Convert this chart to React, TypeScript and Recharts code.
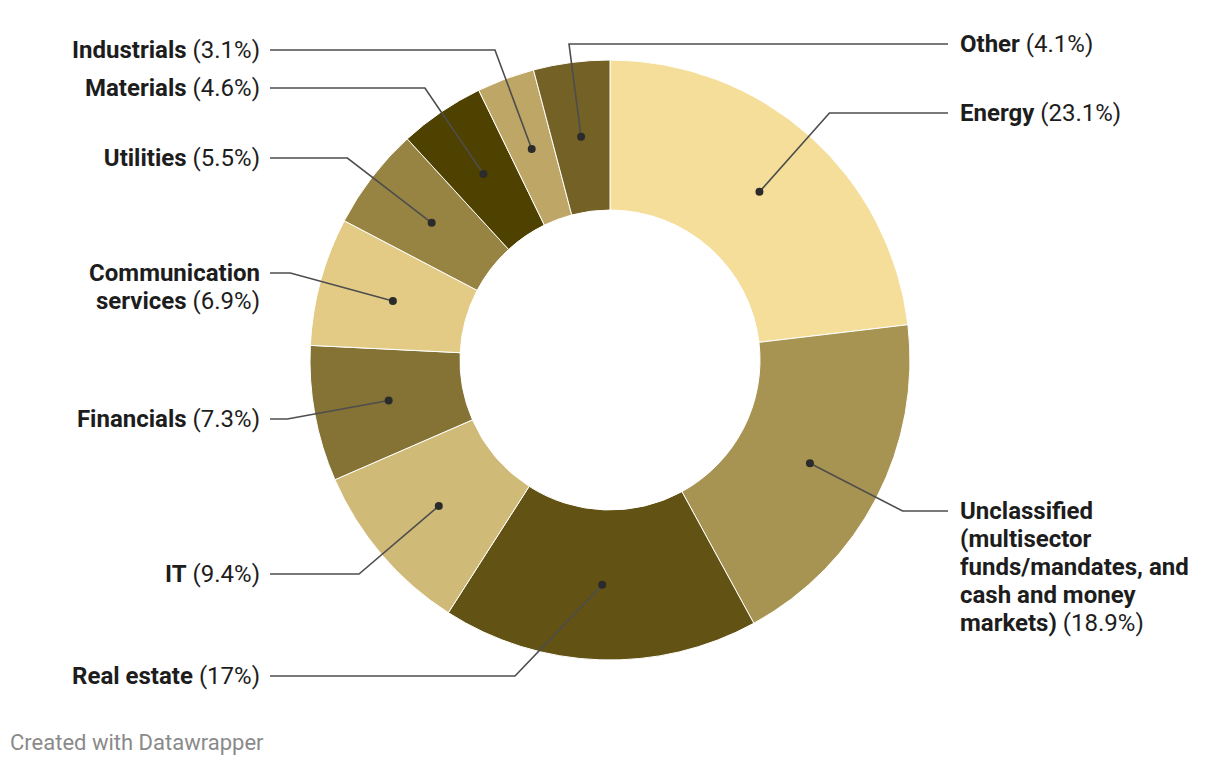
import React from "react";
import { PieChart, Pie, Cell } from "recharts";

const categories = [
  "Energy",
  "Unclassified (multisector funds/mandates, and cash and money markets)",
  "Real estate",
  "IT",
  "Financials",
  "Communication services",
  "Utilities",
  "Materials",
  "Industrials",
  "Other",
];
const values = [23.1, 18.9, 17, 9.4, 7.3, 6.9, 5.5, 4.6, 3.1, 4.1];
const valueLabels = ["23.1%", "18.9%", "17%", "9.4%", "7.3%", "6.9%", "5.5%", "4.6%", "3.1%", "4.1%"];
// wrapped label lines, as shown in the chart
const labelLines = [
  ["Energy"],
  ["Unclassified", "(multisector", "funds/mandates, and", "cash and money", "markets)"],
  ["Real estate"],
  ["IT"],
  ["Financials"],
  ["Communication", "services"],
  ["Utilities"],
  ["Materials"],
  ["Industrials"],
  ["Other"],
];
const colors = ["#f4de99", "#a89452", "#625314", "#d0ba77", "#857235", "#e3cb86", "#978442", "#4f4100", "#bea766", "#736126"];

// label layout: row y, side, and optional fixed elbow x
const labelY = [113, 511, 676, 574, 419, 273, 158, 88, 50, 44];
const labelRight = [true, true, false, false, false, false, false, false, false, true];
const elbowX: (number | null)[] = [null, null, 515, null, null, null, null, null, null, null];

const data = categories.map((name, i) => ({ name, value: values[i] }));

const RAD = Math.PI / 180;
const LINE_H = 28;

function renderLabel(props: any) {
  const { cx, cy, midAngle, innerRadius, outerRadius, index } = props;
  const r = (innerRadius + outerRadius) / 2;
  const dx = Math.cos(-midAngle * RAD);
  const dy = Math.sin(-midAngle * RAD);
  const px = cx + r * dx;
  const py = cy + r * dy;
  const ly = labelY[index];
  const ex = elbowX[index] ?? px + ((ly - py) / dy) * dx;
  const left = !labelRight[index];
  const endX = left ? 270 : 948;
  const textX = left ? 260 : 960;
  const lines = labelLines[index];
  return (
    <g key={`lbl-${index}`}>
      <polyline
        points={`${px},${py} ${ex},${ly} ${endX},${ly}`}
        fill="none"
        stroke="#4d4d4d"
        strokeWidth={1.6}
      />
      <circle cx={px} cy={py} r={4} fill="#2b2b2b" />
      <text
        x={textX}
        y={ly}
        textAnchor={left ? "end" : "start"}
        fontFamily="Roboto, sans-serif"
        fontSize={24}
        fill="#1d1d1d"
      >
        {lines.map((ln, j) => (
          <tspan key={j} x={textX} dy={j === 0 ? 8 : LINE_H}>
            <tspan fontWeight={700}>{ln}</tspan>
            {j === lines.length - 1 ? <tspan fontWeight={400}>{` (${valueLabels[index]})`}</tspan> : null}
          </tspan>
        ))}
      </text>
    </g>
  );
}

export default function App() {
  return (
    <div style={{ marginTop: -8, marginLeft: -8, width: 1220, height: 766, position: "relative", background: "#fff" }}>
      <PieChart width={1220} height={730} margin={{ top: 0, right: 0, bottom: 0, left: 0 }}>
        <Pie
          data={data}
          dataKey="value"
          nameKey="name"
          cx={610}
          cy={360}
          innerRadius={150}
          outerRadius={300}
          startAngle={90}
          endAngle={-270}
          stroke="#ffffff"
          strokeWidth={1}
          label={renderLabel}
          labelLine={false}
          isAnimationActive={false}
        >
          {data.map((d, i) => (
            <Cell key={d.name} fill={colors[i]} />
          ))}
        </Pie>
      </PieChart>
      <div
        style={{
          position: "absolute",
          left: 10,
          top: 729,
          fontFamily: "Roboto, sans-serif",
          fontSize: 22,
          lineHeight: "28px",
          color: "#8a8a8a",
        }}
      >
        Created with Datawrapper
      </div>
    </div>
  );
}
